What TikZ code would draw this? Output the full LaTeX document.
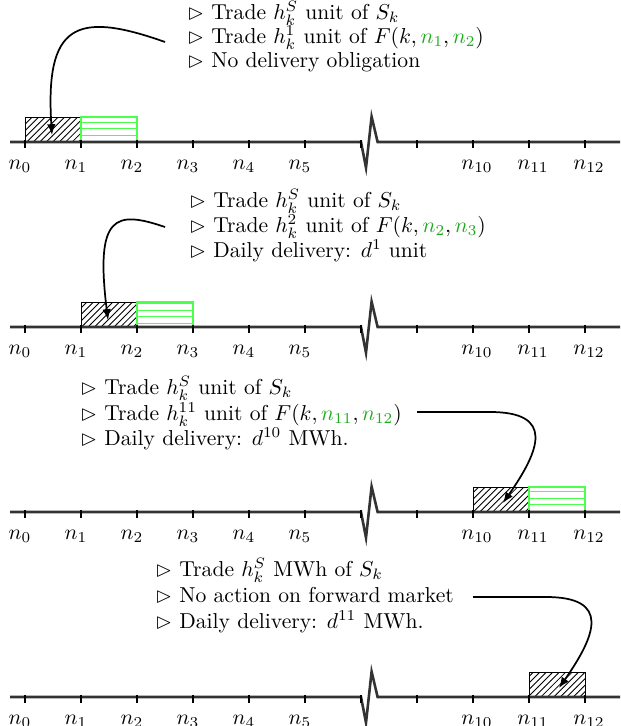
\documentclass[tikz,border=0pt]{standalone}
\usepackage{amssymb}
\usetikzlibrary{patterns,arrows.meta}
\definecolor{fwdtext}{RGB}{30,170,30}
\colorlet{fwdline}{green!70}
\colorlet{axiscol}{black!80}
\newcommand{\fwd}[1]{{\color{fwdtext}#1}}
\newcommand{\bul}{$\vartriangleright$}

\begin{document}
\begin{tikzpicture}[x=0.463pt,y=-0.463pt,
  axisline/.style={line width=1.2pt, draw=axiscol},
  tickmark/.style={line width=0.5pt, draw=black},
  spotbox/.style={draw=black, line width=0.4pt, pattern=north east lines},
  fwdbox/.style={draw=fwdline, line width=0.5pt, pattern=horizontal lines, pattern color=fwdline},
  conn/.style={line width=0.8pt, -{Latex[length=5pt,width=4pt]}},
  noteline/.style={anchor=base west, inner sep=0pt},
  tlab/.style={anchor=base, inner sep=0pt}
]
\useasboundingbox (0,0) rectangle (620,726);

% ---------- four timelines (axis heights) ----------
\foreach \r/\Y in {1/142, 2/327, 3/512, 4/697} {
  % tick positions
  \foreach \i in {0,...,10} {
    \coordinate (r\r t\i) at ({25+56*\i},\Y);
  }
}

% boxes: spot (hatched) and forward (green stripes)
\path[spotbox] (r1t0) rectangle ++(56,-25);
\path[fwdbox]  (r1t1) rectangle ++(56,-25);
\path[spotbox] (r2t1) rectangle ++(56,-25);
\path[fwdbox]  (r2t2) rectangle ++(56,-25);
\path[spotbox] (r3t8) rectangle ++(56,-25);
\path[fwdbox]  (r3t9) rectangle ++(56,-25);
\path[spotbox] (r4t9) rectangle ++(56,-25);

\foreach \r/\Y in {1/142, 2/327, 3/512, 4/697} {
  \coordinate (r\r start) at (10,\Y);
  \coordinate (r\r end) at (620,\Y);
  % axis with a break between n5 and n10
  \draw[axisline] (r\r start) -- (r\r t6) -- ++(5,25.7) -- ++(5.6,-51.1) -- ++(6,25.4) -- (r\r end);
  \foreach \i in {0,...,10} {
    \draw[tickmark] ([yshift=2*0.463pt]r\r t\i) -- ([yshift=-6*0.463pt]r\r t\i);
  }
  % labels
  \foreach \i/\xx in {0/20, 1/76, 2/132, 3/188, 4/244, 5/300} {
    \node[tlab] (r\r l\i) at (\xx,\Y+27) {$n_{\i}$};
  }
  \foreach \i/\xx in {10/477, 11/533, 12/589} {
    \node[tlab] (r\r l\i) at (\xx,\Y+27) {$n_{\i}$};
  }
}

% ---------- notes ----------
\node[noteline] (r1a) at (187,19.5) {\bul{} Trade $h_k^S$ unit of $S_k$};
\node[noteline] (r1b) at (187,43.5) {\bul{} Trade $h_k^1$ unit of $F(k,\fwd{n_1},\fwd{n_2})$};
\node[noteline] (r1c) at (187,67) {\bul{} No delivery obligation};

\node[noteline] (r2a) at (189,207) {\bul{} Trade $h_k^S$ unit of $S_k$};
\node[noteline] (r2b) at (189,232) {\bul{} Trade $h_k^2$ unit of $F(k,\fwd{n_2},\fwd{n_3})$};
\node[noteline] (r2c) at (189,257) {\bul{} Daily delivery: $d^1$ unit};

\node[noteline] (r3a) at (80,394) {\bul{} Trade $h_k^S$ unit of $S_k$};
\node[noteline] (r3b) at (80,420) {\bul{} Trade $h_k^{11}$ unit of $F(k,\fwd{n_{11}},\fwd{n_{12}})$};
\node[noteline] (r3c) at (80,445) {\bul{} Daily delivery: $d^{10}$ MWh.};

\node[noteline] (r4a) at (155,576) {\bul{} Trade $h_k^S$ MWh of $S_k$};
\node[noteline] (r4b) at (155,602) {\bul{} No action on forward market};
\node[noteline] (r4c) at (155,628) {\bul{} Daily delivery: $d^{11}$ MWh.};

% ---------- connectors ----------
\coordinate (r1from) at (165,42);  \coordinate (r1to) at (52,135);
\coordinate (r2from) at (165,227); \coordinate (r2to) at (108,320);
\coordinate (r3from) at (417,412); \coordinate (r3bend) at (490,412); \coordinate (r3to) at (503,503);
\coordinate (r4from) at (473,597); \coordinate (r4bend) at (546,597); \coordinate (r4to) at (559,688);

\draw[conn] (r1from) .. controls (75,10) and (45,25) .. (r1to);
\draw[conn] (r2from) .. controls (115,210) and (95,215) .. (r2to);
\draw[conn] (r3from) -- (r3bend) .. controls (555,412) and (540,450) .. (r3to);
\draw[conn] (r4from) -- (r4bend) .. controls (611,597) and (596,635) .. (r4to);
\end{tikzpicture}
\end{document}
